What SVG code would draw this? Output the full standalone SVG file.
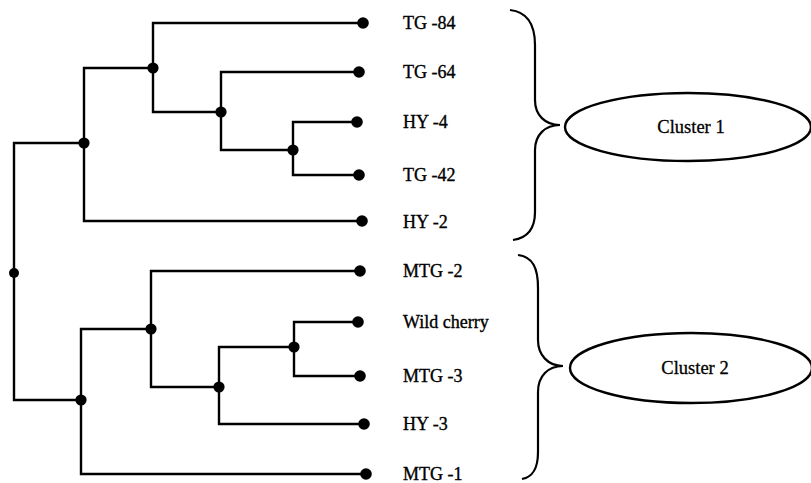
<svg xmlns="http://www.w3.org/2000/svg" width="811" height="483" viewBox="0 0 811 483">
  <style>
    .edge { fill: none; stroke: #000; stroke-width: 2.4; stroke-linejoin: miter; stroke-linecap: square; }
    .dot { fill: #000; }
    .lbl { font-family: "Liberation Serif", "Times New Roman", serif; font-size: 18px; fill: #000; stroke: #000; stroke-width: 0.35; }
    .brace { fill: none; stroke: #000; stroke-width: 2.2; }
    .oval { fill: #fff; stroke: #000; stroke-width: 2.4; }
    .ctext { font-family: "Liberation Serif", "Times New Roman", serif; font-size: 18.5px; fill: #000; stroke: #000; stroke-width: 0.3; text-anchor: middle; }
  </style>
  <rect width="811" height="483" fill="#fff"/>

  <!-- dendrogram branches -->
  <g id="connectors">
    <!-- root -->
    <path class="edge" d="M84,143 H14 V400 H81"/>
    <!-- cluster 1 -->
    <path class="edge" d="M153,68 H84 V221 H362"/>
    <path class="edge" d="M363,23 H153 V112 H221"/>
    <path class="edge" d="M359,72 H221 V150 H293"/>
    <path class="edge" d="M357,122 H293 V175 H359"/>
    <!-- cluster 2 -->
    <path class="edge" d="M151,329 H81 V474 H366"/>
    <path class="edge" d="M360,271 H151 V387 H219"/>
    <path class="edge" d="M294,347 H219 V424 H364"/>
    <path class="edge" d="M358,322 H294 V376 H360"/>
  </g>

  <!-- internal nodes -->
  <g id="internal-nodes">
    <circle class="dot" cx="14" cy="273" r="5"/>
    <circle class="dot" cx="84" cy="143" r="5.6"/>
    <circle class="dot" cx="153" cy="68" r="5.6"/>
    <circle class="dot" cx="221" cy="112" r="5.6"/>
    <circle class="dot" cx="293" cy="150" r="5.6"/>
    <circle class="dot" cx="81" cy="400" r="5.6"/>
    <circle class="dot" cx="151" cy="329" r="5.6"/>
    <circle class="dot" cx="219" cy="387" r="5.6"/>
    <circle class="dot" cx="294" cy="347" r="5.6"/>
  </g>

  <!-- leaves -->
  <g id="leaf-tg84"><circle class="dot" cx="363" cy="23" r="5.8"/><text class="lbl" x="403" y="29">TG -84</text></g>
  <g id="leaf-tg64"><circle class="dot" cx="359" cy="72" r="5.8"/><text class="lbl" x="403" y="78">TG -64</text></g>
  <g id="leaf-hy4"><circle class="dot" cx="357" cy="122" r="5.8"/><text class="lbl" x="403" y="128">HY -4</text></g>
  <g id="leaf-tg42"><circle class="dot" cx="359" cy="175" r="5.8"/><text class="lbl" x="403" y="181">TG -42</text></g>
  <g id="leaf-hy2"><circle class="dot" cx="362" cy="221" r="5.8"/><text class="lbl" x="403" y="228">HY -2</text></g>
  <g id="leaf-mtg2"><circle class="dot" cx="360" cy="271" r="5.8"/><text class="lbl" x="403" y="277">MTG -2</text></g>
  <g id="leaf-wild-cherry"><circle class="dot" cx="358" cy="322" r="5.8"/><text class="lbl" x="403" y="328">Wild cherry</text></g>
  <g id="leaf-mtg3"><circle class="dot" cx="360" cy="376" r="5.8"/><text class="lbl" x="403" y="382">MTG -3</text></g>
  <g id="leaf-hy3"><circle class="dot" cx="364" cy="424" r="5.8"/><text class="lbl" x="403" y="430">HY -3</text></g>
  <g id="leaf-mtg1"><circle class="dot" cx="366" cy="474" r="5.8"/><text class="lbl" x="403" y="480">MTG -1</text></g>

  <!-- cluster groupings -->
  <g id="cluster-1">
    <path class="brace" d="M510,10 C528,12 535,25 535,45 L535,100 C535,115 545,125 560,125 C545,125 535,135 535,150 L535,212 C535,230 527,238 513,240"/>
    <ellipse class="oval" cx="688" cy="127" rx="123" ry="34"/>
    <text class="ctext" x="691" y="133">Cluster 1</text>
  </g>
  <g id="cluster-2">
    <path class="brace" d="M518,255 C533,257 538,268 538,288 L538,340 C538,355 548,366 563,366 C548,366 538,376 538,392 L538,452 C538,470 532,477 522,479"/>
    <ellipse class="oval" cx="691" cy="368" rx="121" ry="35"/>
    <text class="ctext" x="695" y="374">Cluster 2</text>
  </g>
</svg>
